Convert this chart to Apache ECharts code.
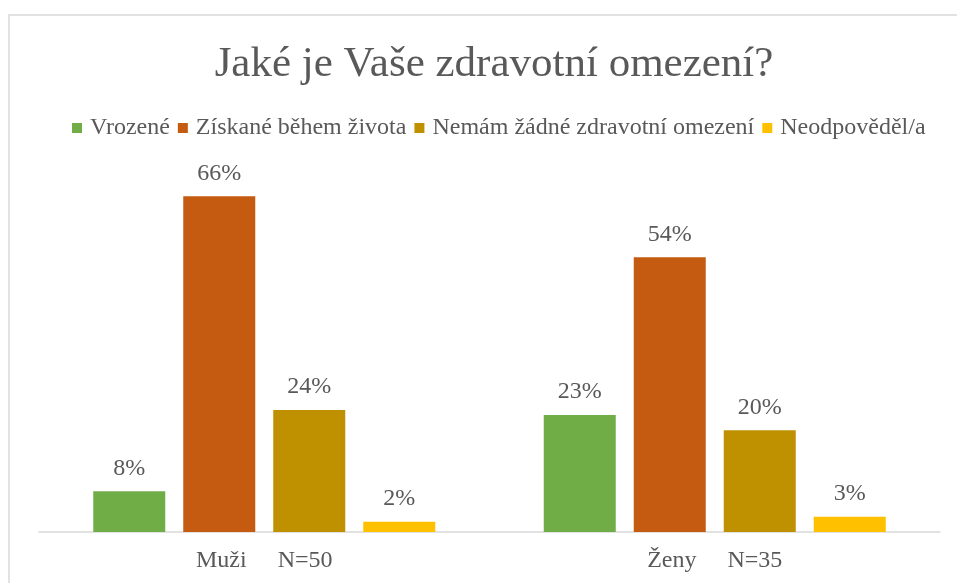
<!DOCTYPE html>
<html>
<head>
<meta charset="utf-8">
<script src="https://cdn.jsdelivr.net/npm/echarts@6/dist/echarts.min.js"></script>
<style>
html,body{margin:0;padding:0;background:#fff;}
#chart{width:957px;height:583px;}
</style>
</head>
<body>
<div id="chart"></div>
<script>
const titleText = 'Jaké je Vaše zdravotní omezení?';
const categories = ['Muži', 'Ženy'];
const sampleSizes = ['N=50', 'N=35'];
const seriesNames = ['Vrozené', 'Získané během života', 'Nemám žádné zdravotní omezení', 'Neodpověděl/a'];
const vrozene = [8, 23];
const ziskane = [66, 54];
const nemam = [24, 20];
const neodpovedel = [2, 3];
const seriesValues = [vrozene, ziskane, nemam, neodpovedel];
const colors = ['#70ad47', '#c55a11', '#bf9000', '#ffc000'];

const FONT = "'Liberation Serif', 'Times New Roman', serif";
const TXT = '#595959';

const chart = echarts.init(document.getElementById('chart'), null, {renderer: 'canvas'});
chart.setOption({
  animation: false,
  backgroundColor: '#fff',
  graphic: [{
    type: 'rect',
    shape: {x: 9, y: 15, width: 980, height: 600},
    style: {fill: 'none', stroke: '#e2e2e2', lineWidth: 2},
    silent: true, z: -1
  }],
  title: {
    text: titleText,
    left: 489,
    textAlign: 'center',
    top: 38,
    textStyle: {fontFamily: FONT, fontSize: 43, fontWeight: 'normal', color: TXT}
  },
  legend: {
    top: 111,
    left: 67,
    itemWidth: 10,
    itemHeight: 10,
    itemGap: 8,
    icon: 'rect',
    textStyle: {fontFamily: FONT, fontSize: 24, color: TXT, padding: [0, 0, 0, 3]},
    data: seriesNames
  },
  grid: {left: 39, right: 17, top: 176, bottom: 51, containLabel: false},
  xAxis: {
    type: 'category',
    data: categories,
    axisLine: {show: true, lineStyle: {color: '#d9d9d9', width: 1.5}},
    axisTick: {show: false},
    axisLabel: {
      margin: 17,
      formatter: function (v, i) { return '{a|' + v + '}{b|' + sampleSizes[i] + '}'; },
      rich: {
        a: {fontFamily: FONT, fontSize: 24, color: TXT},
        b: {fontFamily: FONT, fontSize: 24, color: TXT, padding: [0, 0, 0, 31]}
      }
    }
  },
  yAxis: {
    type: 'value', min: 0, max: 70, show: false,
    splitLine: {show: false}
  },
  series: seriesValues.map((vals, i) => ({
    name: seriesNames[i],
    type: 'bar',
    data: vals,
    barWidth: 72,
    barGap: '25%',
    itemStyle: {color: colors[i]},
    label: {
      show: true,
      position: 'top',
      distance: 11,
      formatter: '{c}%',
      fontFamily: FONT,
      fontSize: 24,
      color: TXT
    }
  }))
});
</script>
</body>
</html>
